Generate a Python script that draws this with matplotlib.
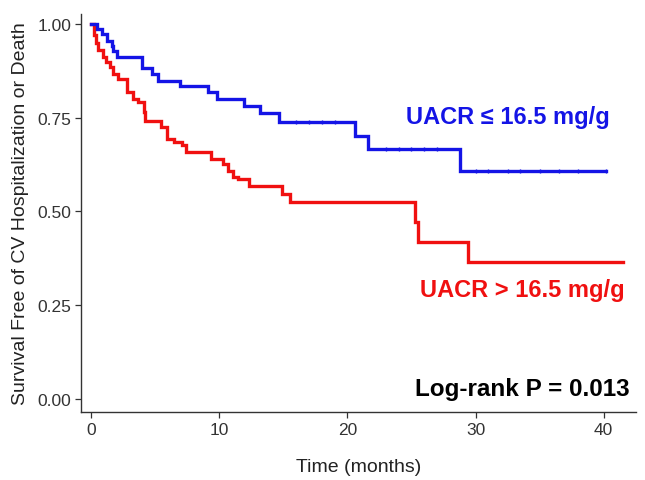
import matplotlib
matplotlib.use("Agg")
import matplotlib.pyplot as plt
import numpy as np

plt.rcParams['font.family'] = ['Liberation Sans', 'DejaVu Sans']

# Low UACR group (blue)
low_t = [0, 0.44, 0.83, 1.22, 1.61, 1.74, 2.0, 3.95, 4.73, 5.25, 6.94, 9.15, 9.8, 11.9, 13.2, 14.7, 20.6, 21.6, 28.8]
low_s = [1.0, 0.987, 0.973, 0.956, 0.942, 0.929, 0.911, 0.884, 0.867, 0.849, 0.834, 0.818, 0.80, 0.78, 0.762, 0.738, 0.702, 0.667, 0.607]
low_end = 40.2
low_cens = [16, 17, 18, 19, 23, 24, 25, 26, 27, 30, 31, 32.5, 33.5, 35, 36.5, 38, 40.2]

# High UACR group (red)
high_t = [0, 0.2, 0.4, 0.55, 0.9, 1.2, 1.5, 1.7, 2.13, 2.77, 3.3, 3.7, 4.1, 4.2, 5.5, 5.9, 6.5, 7.1, 7.45, 9.4, 10.3, 10.7, 11.1, 11.5, 12.3, 14.9, 15.5, 25.25, 25.5, 29.4]
high_s = [1.0, 0.97, 0.95, 0.93, 0.912, 0.898, 0.885, 0.867, 0.853, 0.818, 0.80, 0.791, 0.764, 0.742, 0.724, 0.693, 0.684, 0.676, 0.658, 0.64, 0.627, 0.609, 0.591, 0.587, 0.569, 0.547, 0.525, 0.471, 0.418, 0.366]
high_end = 41.5

x_ticks = [0, 10, 20, 30, 40]
y_ticks = [0.00, 0.25, 0.50, 0.75, 1.00]
y_ticklabels = ["0.00", "0.25", "0.50", "0.75", "1.00"]

BLUE = "#1414E6"
RED = "#F01010"

fig = plt.figure(figsize=(6.45, 4.81), dpi=100)
ax = fig.add_axes([0.1256, 0.1414, 0.860, 0.8276])

def km(ax, t, s, end, color, cens=None):
    xs = list(t) + [end]
    ys = list(s) + [s[-1]]
    ax.step(xs, ys, where='post', color=color, lw=2.4, solid_joinstyle='miter', zorder=3)
    if cens:
        tt = np.array(t)
        cs = [s[np.searchsorted(tt, c, side='right') - 1] for c in cens]
        ax.plot(cens, cs, ls='none', marker='|', ms=3, mew=1.0, color=color, zorder=4)

km(ax, high_t, high_s, high_end, RED)
km(ax, low_t, low_s, low_end, BLUE, low_cens)

ax.set_xlim(-0.78, 42.5)
ax.set_ylim(-0.035, 1.027)
ax.set_xticks(x_ticks)
ax.set_yticks(y_ticks)
ax.set_yticklabels(y_ticklabels)
for sp in ['top', 'right']:
    ax.spines[sp].set_visible(False)
for sp in ['left', 'bottom']:
    ax.spines[sp].set_color('#333333')
    ax.spines[sp].set_linewidth(1.0)
ax.tick_params(direction='out', length=4, width=0.9, color='#333333',
               labelsize=12.5, labelcolor='#333333', pad=3)

ax.set_xlabel("Time (months)", fontsize=14, color='#222222', labelpad=15)
ax.set_ylabel("Survival Free of CV Hospitalization or Death", fontsize=14, color='#222222', labelpad=6)

ax.text(40.45, 0.752, "UACR \u2264 16.5 mg/g", color=BLUE, fontsize=17, fontweight='bold',
        ha='right', va='center')
ax.text(41.6, 0.293, "UACR > 16.5 mg/g", color=RED, fontsize=17, fontweight='bold',
        ha='right', va='center')
ax.text(42.0, 0.027, "Log-rank P = 0.013", color='black', fontsize=17.5, fontweight='bold',
        ha='right', va='center')

fig.savefig("out.png", dpi=100)
